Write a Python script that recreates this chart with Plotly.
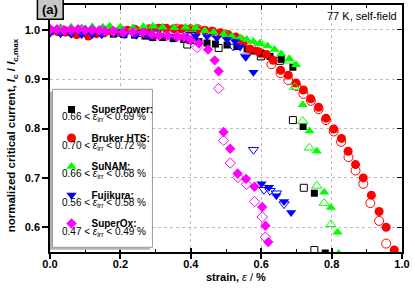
import plotly.graph_objects as go

# ---------------- data ----------------
sp_fill_x = [0.00,0.03,0.06,0.09,0.12,0.15,0.18,0.21,0.24,0.27,0.292,0.32,0.35,0.38,0.40,0.423,0.446,0.470,0.503,0.531,0.56,0.58,0.60,0.625,0.657,0.69,0.719,0.751,0.782]
sp_fill_y = [0.996,0.995,0.994,0.994,0.993,0.992,0.991,0.990,0.989,0.987,0.984,0.984,0.982,0.980,0.978,0.976,0.973,0.971,0.969,0.966,0.961,0.957,0.952,0.946,0.940,0.924,0.804,0.669,0.548]
sp_open_x = [0.00,0.05,0.10,0.15,0.20,0.25,0.30,0.39,0.479,0.599,0.653,0.690,0.721,0.751]
sp_open_y = [0.998,0.997,0.996,0.995,0.994,0.993,0.992,0.970,0.963,0.946,0.937,0.817,0.680,0.554]

br_fill_x = [0.00,0.022,0.044,0.066,0.076,0.109,0.132,0.154,0.176,0.198,0.220,0.242,0.264,0.286,0.308,0.330,0.352,0.374,0.396,0.418,0.440,0.462,0.484,0.506,0.528,0.548,0.568,0.590,0.615,0.634,0.655,0.677,0.699,0.720,0.741,0.763,0.784,0.806,0.828,0.847,0.868,0.890,0.913,0.935,0.955,0.978]
br_fill_y = [0.997,0.996,0.995,0.993,0.990,0.987,0.992,0.995,0.997,0.998,0.999,1.000,0.999,1.001,1.003,1.003,1.002,1.002,1.001,1.000,0.999,0.997,0.994,0.990,0.985,0.975,0.961,0.956,0.950,0.938,0.918,0.908,0.892,0.878,0.860,0.843,0.821,0.799,0.780,0.754,0.727,0.700,0.665,0.632,0.600,0.554]
br_open_x = [0.00,0.04,0.08,0.12,0.16,0.20,0.24,0.28,0.32,0.36,0.40,0.42,0.46,0.50,0.54,0.57,0.60,0.629,0.655,0.677,0.700,0.720,0.741,0.763,0.784,0.806,0.827,0.848,0.868,0.890,0.910,0.935,0.955]
br_open_y = [0.999,0.998,0.997,0.997,0.998,0.999,1.000,1.001,1.002,1.002,1.001,1.001,0.996,0.990,0.980,0.966,0.952,0.930,0.912,0.898,0.886,0.870,0.856,0.839,0.817,0.794,0.773,0.742,0.715,0.688,0.649,0.613,0.567]

sn_fill_x = [0.00,0.03,0.06,0.09,0.12,0.15,0.17,0.20,0.236,0.265,0.292,0.32,0.353,0.385,0.414,0.440,0.465,0.493,0.517,0.540,0.559,0.578,0.596,0.618,0.638,0.657,0.680,0.699,0.718,0.737,0.758,0.779,0.798,0.817,0.820]
sn_fill_y = [1.003,1.004,1.005,1.003,1.006,1.005,1.007,1.005,1.004,1.006,1.007,1.005,1.004,1.005,1.004,0.998,0.995,0.991,0.986,0.983,0.980,0.976,0.972,0.967,0.960,0.951,0.941,0.929,0.848,0.795,0.754,0.671,0.640,0.590,0.547]
sn_open_x = [0.00,0.10,0.20,0.30,0.40,0.50,0.60,0.681,0.695,0.718,0.737,0.758,0.779,0.798]
sn_open_y = [1.000,1.001,1.001,1.002,1.001,0.990,0.972,0.937,0.884,0.815,0.761,0.684,0.649,0.606]

fj_fill_x = [0.00,0.03,0.06,0.09,0.12,0.147,0.179,0.212,0.245,0.28,0.31,0.345,0.38,0.414,0.446,0.474,0.503,0.526,0.540,0.556,0.578,0.601,0.622,0.643,0.665,0.685]
fj_fill_y = [0.993,0.992,0.991,0.990,0.990,0.990,0.994,0.990,0.989,0.988,0.988,0.987,0.986,0.987,0.986,0.983,0.980,0.976,0.965,0.944,0.914,0.688,0.681,0.664,0.652,0.630]
fj_open_x = [0.00,0.10,0.20,0.30,0.40,0.521,0.556,0.578,0.608,0.625,0.643,0.665]
fj_open_y = [0.997,0.996,0.995,0.993,0.990,0.966,0.946,0.757,0.676,0.674,0.669,0.647]

so_fill_x = [0.00,0.02,0.04,0.06,0.08,0.10,0.12,0.14,0.156,0.18,0.207,0.235,0.264,0.29,0.31,0.335,0.362,0.38,0.400,0.423,0.449,0.468,0.479,0.493,0.512,0.533,0.557,0.581,0.603,0.612,0.620]
so_fill_y = [1.000,1.001,0.999,1.000,1.001,0.999,1.000,0.999,0.997,0.996,0.994,0.995,0.994,0.990,0.988,0.988,0.986,0.985,0.979,0.972,0.960,0.938,0.916,0.793,0.759,0.709,0.698,0.682,0.641,0.603,0.570]
so_open_x = [0.00,0.03,0.06,0.09,0.12,0.15,0.18,0.21,0.24,0.27,0.30,0.33,0.36,0.39,0.418,0.479,0.493,0.512,0.534,0.558,0.581,0.603,0.612]
so_open_y = [1.000,1.000,0.999,1.000,0.999,0.998,0.997,0.996,0.995,0.993,0.990,0.988,0.986,0.982,0.964,0.881,0.776,0.730,0.701,0.687,0.652,0.621,0.580]

names = ["SuperPower:", "Bruker HTS:", "SuNAM:", "Fujikura:", "SuperOx:"]
ranges = [("0.66", "0.69"), ("0.70", "0.72"), ("0.66", "0.68"), ("0.56", "0.58"), ("0.47", "0.49")]
colors = ["#000000", "#ff0000", "#00ff00", "#0000ff", "#ff00ff"]
symbols = ["square", "circle", "triangle-up", "triangle-down", "diamond"]
sizes = [7, 9, 9, 9, 8]

x_ticks = [0.0, 0.2, 0.4, 0.6, 0.8, 1.0]
y_ticks = [0.6, 0.7, 0.8, 0.9, 1.0]

fills = [(sp_fill_x, sp_fill_y), (br_fill_x, br_fill_y), (sn_fill_x, sn_fill_y), (fj_fill_x, fj_fill_y), (so_fill_x, so_fill_y)]
opens = [(sp_open_x, sp_open_y), (br_open_x, br_open_y), (sn_open_x, sn_open_y), (fj_open_x, fj_open_y), (so_open_x, so_open_y)]

FONT = "Liberation Sans, Arial, sans-serif"

fig = go.Figure()
for i in range(5):
    ox, oy = opens[i]
    fig.add_trace(go.Scatter(
        x=ox, y=oy, mode="markers", showlegend=False, legendgroup=f"g{i}",
        marker=dict(symbol=symbols[i] + "-open", size=sizes[i], color=colors[i],
                    line=dict(width=1, color=colors[i]))))
    fx, fy = fills[i]
    fig.add_trace(go.Scatter(
        x=fx, y=fy, mode="markers", name=f"<b>{names[i]}</b>", legendgroup=f"g{i}",
        marker=dict(symbol=symbols[i], size=sizes[i], color=colors[i], line=dict(width=0))))

# empty traces so overlay axes are drawn
fig.add_trace(go.Scatter(x=[], y=[], xaxis="x2", yaxis="y2", showlegend=False, legendgroup="g4"))
fig.add_trace(go.Scatter(x=[], y=[], xaxis="x3", yaxis="y", showlegend=False, legendgroup="g4"))

W, H = 415, 290
L, R, T, B = 50, 10, 5, 38
pw, ph = W - L - R, H - T - B


def px_x(p):
    return (p - L) / pw


def px_y(p):
    return (H - B - p) / ph


shapes = [
    # legend shadow and box
    dict(type="rect", xref="paper", yref="paper", x0=px_x(50), x1=px_x(150.8), y0=px_y(249.8), y1=px_y(91.8),
         fillcolor="#b4b4b4", line=dict(width=0), layer="above"),
    dict(type="rect", xref="paper", yref="paper", x0=px_x(52.5), x1=px_x(153.3), y0=px_y(247.3), y1=px_y(89.3),
         fillcolor="white", line=dict(width=1, color="#9a9a9a"), layer="above"),
    # (a) box
    dict(type="rect", xref="paper", yref="paper", x0=px_x(37.3), x1=px_x(63.3), y0=px_y(19.3), y1=px_y(-2),
         fillcolor="#c8c8c8", line=dict(width=1.5, color="black"), layer="above"),
]

annotations = [
    dict(text="<b>(a)</b>", xref="paper", yref="paper", x=px_x(50.3), y=px_y(10), showarrow=False,
         xanchor="center", yanchor="middle", font=dict(family=FONT, size=13, color="black")),
    dict(text="77 K, self-field", xref="paper", yref="paper", x=px_x(402), y=px_y(16), showarrow=False,
         xanchor="right", yanchor="middle", font=dict(family=FONT, size=11, color="black")),
    dict(text="<b>normalized critical current, <i>I</i></b><sub><b>c</b></sub><b> / <i>I</i></b><sub><b>c,max</b></sub>",
         xref="paper", yref="paper", x=px_x(12), y=px_y(135), showarrow=False, textangle=-90,
         xanchor="center", yanchor="middle", font=dict(family=FONT, size=11.5, color="black")),
    dict(text="<b>strain, </b><i>ε</i> / <b>%</b>", xref="paper", yref="paper", x=px_x(238), y=px_y(277),
         showarrow=False, xanchor="center", yanchor="middle", font=dict(family=FONT, size=11, color="black")),
]
line_y = [117.3, 146.0, 174.3, 203.3, 231.7]
for i in range(5):
    lo, hi = ranges[i]
    annotations.append(dict(
        text=f"{lo} &lt; <i>ε</i><sub>irr</sub> &lt; {hi} %", xref="paper", yref="paper",
        x=px_x(60.5), y=px_y(line_y[i]), showarrow=False, xanchor="left", yanchor="middle",
        font=dict(family=FONT, size=10, color="black")))

fig.update_layout(
    width=W, height=H, margin=dict(l=L, r=R, t=T, b=B),
    paper_bgcolor="white", plot_bgcolor="white",
    font=dict(family=FONT, size=11, color="black"),
    showlegend=True,
    legend=dict(x=px_x(51.5), y=px_y(95), xanchor="left", yanchor="top", bgcolor="rgba(0,0,0,0)",
                borderwidth=0, font=dict(family=FONT, size=10, color="black"),
                itemwidth=30, tracegroupgap=9.5, traceorder="grouped"),
    xaxis=dict(range=[0, 1.0], tickvals=x_ticks, ticktext=[f"{v:.1f}" for v in x_ticks],
               ticks="outside", ticklen=5, tickwidth=1.5, tickcolor="black", ticklabelstandoff=-4,
               showline=True, linewidth=1.5, linecolor="black", mirror=False,
               showgrid=True, gridcolor="#bdbdbd", griddash="dot", gridwidth=1, zeroline=False,
               tickfont=dict(family=FONT, size=11, color="black", weight="bold"),
               minor=dict(tickvals=[0.1, 0.3, 0.5, 0.7, 0.9], ticks="inside", ticklen=3, tickcolor="black",
                          tickwidth=1, showgrid=False)),
    xaxis2=dict(range=[0, 1.0], overlaying="x", side="top", anchor="y2", tickvals=x_ticks, showticklabels=False,
                ticks="inside", ticklen=5, tickwidth=1.2, tickcolor="black", showline=True, linewidth=1.5,
                linecolor="black", showgrid=False, zeroline=False,
                minor=dict(tickvals=[0.1, 0.3, 0.5, 0.7, 0.9], ticks="inside", ticklen=3, tickcolor="black",
                           tickwidth=1, showgrid=False)),
    xaxis3=dict(range=[0, 1.0], overlaying="x", side="bottom", anchor="y", tickvals=x_ticks, showticklabels=False,
                ticks="inside", ticklen=4, tickwidth=1.5, tickcolor="black", showline=False, showgrid=False,
                zeroline=False),
    yaxis=dict(range=[0.55, 1.05], tickvals=y_ticks, ticktext=[f"{v:.1f}" for v in y_ticks],
               ticks="outside", ticklen=6, tickwidth=1.5, tickcolor="black",
               showline=True, linewidth=1.5, linecolor="black", mirror=False,
               showgrid=True, gridcolor="#bdbdbd", griddash="dot", gridwidth=1, zeroline=False,
               tickfont=dict(family=FONT, size=11, color="black", weight="bold")),
    yaxis2=dict(range=[0.55, 1.05], overlaying="y", side="right", anchor="x2", tickvals=y_ticks,
                showticklabels=False, ticks="inside", ticklen=5, tickwidth=1.2, tickcolor="black",
                showline=True, linewidth=1.5, linecolor="black", showgrid=False, zeroline=False),
    shapes=shapes,
    annotations=annotations,
)

fig.write_html("out.html", config={"displayModeBar": False},
               post_script="document.body.style.margin='0';document.body.style.padding='0';"
                           "document.body.style.overflow='hidden';")
